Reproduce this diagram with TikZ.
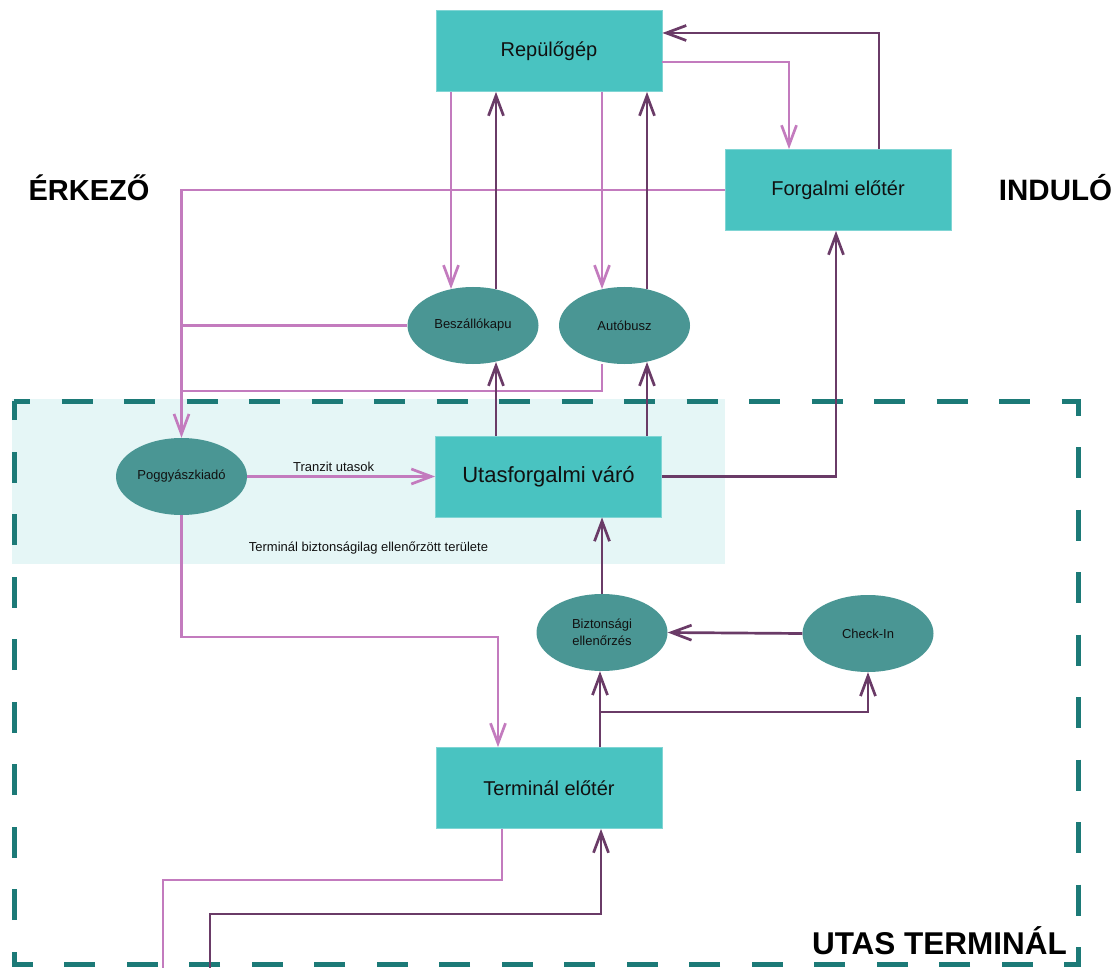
\documentclass[tikz,border=0pt]{standalone}
\usepackage{fontspec}
\setmainfont{Liberation Sans}
\usetikzlibrary{shapes.geometric,arrows.meta,backgrounds}
\definecolor{boxfill}{HTML}{49C3C1}
\definecolor{ovalfill}{HTML}{4A9694}
\definecolor{zonefill}{HTML}{E5F6F6}
\definecolor{zoneline}{HTML}{1C7A77}
\definecolor{lightflow}{HTML}{C37BBE}
\definecolor{darkflow}{HTML}{6A3B67}
\definecolor{ink}{HTML}{111111}
\tikzset{
  hall/.style={rectangle, fill=boxfill, draw=boxfill!70!white, line width=0.8pt,
    minimum width=226pt, minimum height=81pt, inner sep=0pt, text=ink,
    font=\fontsize{20}{24}\selectfont},
  spot/.style={ellipse, fill=ovalfill, draw=none, minimum width=131pt,
    minimum height=77pt, inner sep=0pt, text=ink, align=center,
    font=\fontsize{13}{17}\selectfont},
  tip/.style={-{Straight Barb[length=20pt,width=15pt]}},
  lt/.style={draw=lightflow, line width=2.7pt, tip},
  dk/.style={draw=darkflow, line width=2.7pt, tip},
  title/.style={text=black, font=\fontsize{29}{34}\selectfont\bfseries},
  note/.style={text=ink, font=\fontsize{13}{16}\selectfont}
}
\begin{document}
\begin{tikzpicture}[x=1pt,y=-1pt]
\useasboundingbox (0,0) rectangle (1119,968);

% main halls
\node[hall] (rep)  at (549,51)    {Repülőgép};
\node[hall] (forg) at (838,190)   {Forgalmi előtér};
\node[hall, font=\fontsize{22}{26}\selectfont] (utas) at (548.5,476.5) {Utasforgalmi váró};
\node[hall] (term) at (549,788)   {Terminál előtér};

% stations
\node[spot] (bes) at (473,325.5)  {Beszállókapu};
\node[spot] (aut) at (624.5,325.5){Autóbusz};
\node[spot] (pog) at (181.5,476.5){Poggyászkiadó};
\node[spot] (biz) at (602,632.5)  {Biztonsági\\ellenőrzés};
\node[spot] (chk) at (868,633.5)  {Check-In};

% headings
\node[title] (arr) at (89,188)   {ÉRKEZŐ};
\node[title, font=\fontsize{29.5}{34}\selectfont\bfseries] (dep) at (1055.5,188) {INDULÓ};
\node[title, font=\fontsize{31.5}{36}\selectfont\bfseries] (pt) at (939.5,941) {UTAS TERMINÁL};
\node[note] (sec) at (368.5,548) {Terminál biztonságilag ellenőrzött területe};

% zones behind everything
\begin{scope}[on background layer]
  \fill[zonefill] (12,399) rectangle (725,564);
  \draw[zoneline, line width=5pt, dash pattern=on 31pt off 31.5pt, dash phase=15pt]
    (14,401) -- (1078,401) -- (1078,964) -- (14,964) -- cycle;
\end{scope}

% free ends at the lower edge
\coordinate (outL) at (163,968);
\coordinate (inR)  at (210,968);

% arriving flows
\draw[lt] (rep.east |- 0,62) -| (forg.north -| 789,0);
\draw[lt] (rep.south -| 451,0) -- (451,289);
\draw[lt] (rep.south -| 602,0) -- (602,289);
\draw[lt] (forg.west) -| (pog.north);
\draw[lt, -] (bes.west) -- (bes.west -| pog.north);
\draw[lt, -] (aut.south -| 602,0) |- (pog.north |- 0,391);
\draw[lt] (pog.east) -- node[note, pos=0.46, above=0pt] (tr) {Tranzit utasok} (utas.west);
\draw[lt] (pog.south) |- (498,637) -- (term.north -| 498,0);
\draw[lt, -] (term.south -| 502,0) |- (outL |- 0,880) -- (outL);

% departing flows
\draw[dk] (forg.north -| 879,0) |- (rep.east |- 0,33);
\draw[dk] (496,289) -- (rep.south -| 496,0);
\draw[dk] (647,289) -- (rep.south -| 647,0);
\draw[dk] (utas.north -| 496,0) -- (496,362);
\draw[dk] (utas.north -| 647,0) -- (647,362);
\draw[dk] (utas.east) -| (forg.south -| 836,0);
\draw[dk] (biz.north) -- (utas.south -| biz.north);
\draw[dk] (chk.west) -- (biz.east);
\draw[dk] (term.north -| 600,0) -- (biz.south -| 600,0);
\draw[dk] (600,712) -| (chk.south);
\draw[dk] (inR) |- (601,914) -- (term.south -| 601,0);
\end{tikzpicture}
\end{document}
